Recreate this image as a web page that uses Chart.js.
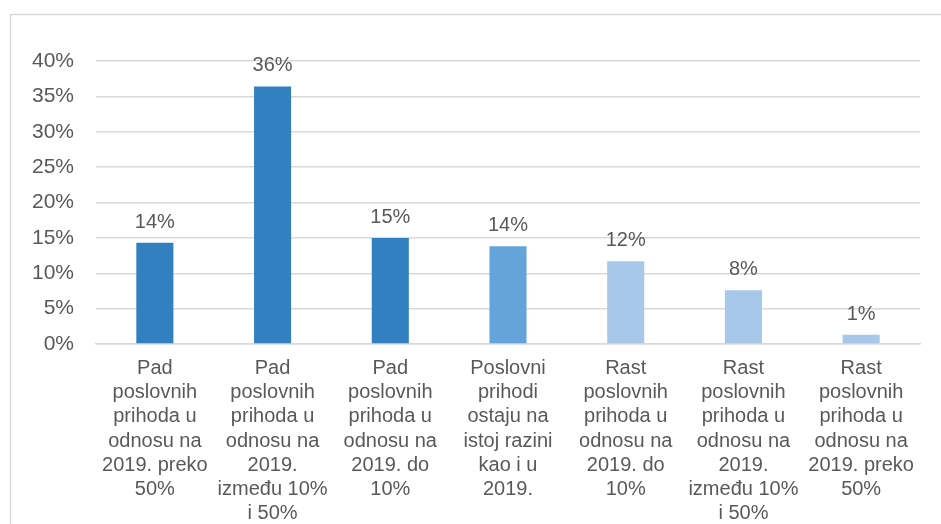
<!DOCTYPE html>
<html>
<head>
<meta charset="utf-8">
<script src="https://cdn.jsdelivr.net/npm/chart.js@4/dist/chart.umd.min.js"></script>
<style>
html,body{margin:0;padding:0;background:#fff;}
#wrap{width:941px;height:524px;position:relative;}
</style>
</head>
<body>
<div id="wrap"><canvas id="c" width="941" height="524"></canvas></div>
<script>
const categories = [
  ["Pad", "poslovnih", "prihoda u", "odnosu na", "2019. preko", "50%"],
  ["Pad", "poslovnih", "prihoda u", "odnosu na", "2019.", "između 10%", "i 50%"],
  ["Pad", "poslovnih", "prihoda u", "odnosu na", "2019. do", "10%"],
  ["Poslovni", "prihodi", "ostaju na", "istoj razini", "kao i u", "2019."],
  ["Rast", "poslovnih", "prihoda u", "odnosu na", "2019. do", "10%"],
  ["Rast", "poslovnih", "prihoda u", "odnosu na", "2019.", "između 10%", "i 50%"],
  ["Rast", "poslovnih", "prihoda u", "odnosu na", "2019. preko", "50%"]
];
const values = [14.3, 36.4, 15.0, 13.8, 11.7, 7.6, 1.3];
const barColors = ["#3380C0", "#3380C0", "#3380C0", "#64A4DA", "#A7C8E8", "#A7C8E8", "#A7C8E8"];
const yTicks = [0, 5, 10, 15, 20, 25, 30, 35, 40];

const FONT = "'Liberation Sans', Arial, sans-serif";
const TEXT = "#595959";

const framePlugin = {
  id: 'frame',
  beforeDraw(chart) {
    const ctx = chart.ctx;
    ctx.save();
    ctx.strokeStyle = '#D9D9D9';
    ctx.lineWidth = 1.5;
    ctx.strokeRect(10.5, 14.5, 1200, 1200);
    ctx.restore();
  }
};

const labelPlugin = {
  id: 'valueLabels',
  afterDatasetsDraw(chart) {
    const ctx = chart.ctx;
    const meta = chart.getDatasetMeta(0);
    ctx.save();
    ctx.font = "20px " + FONT;
    ctx.fillStyle = TEXT;
    ctx.textAlign = 'center';
    ctx.textBaseline = 'alphabetic';
    meta.data.forEach((bar, i) => {
      ctx.fillText(Math.round(values[i]) + '%', bar.x, bar.y - 15);
    });
    ctx.restore();
  }
};

new Chart(document.getElementById('c'), {
  type: 'bar',
  data: {
    labels: categories,
    datasets: [{
      data: values,
      backgroundColor: barColors,
      borderWidth: 0,
      categoryPercentage: 1,
      barPercentage: 0.315
    }]
  },
  options: {
    responsive: false,
    animation: false,
    devicePixelRatio: 1,
    layout: { padding: { left: 0, right: 21, top: 61, bottom: 0 } },
    plugins: { legend: { display: false }, tooltip: { enabled: false } },
    scales: {
      x: {
        afterFit(scale) { scale.height = 180; },
        grid: { display: false, drawTicks: false },
        border: { display: true, color: '#D9D9D9', width: 1.5 },
        ticks: {
          color: TEXT,
          font: { family: FONT, size: 20, lineHeight: 1.215 },
          padding: 12,
          maxRotation: 0,
          autoSkip: false
        }
      },
      y: {
        min: 0,
        max: 40,
        afterFit(scale) { scale.width = 96; },
        afterBuildTicks(scale) { scale.ticks = yTicks.map(v => ({ value: v })); },
        grid: { color: '#D9D9D9', lineWidth: 1.5, drawTicks: false },
        border: { display: false },
        ticks: {
          color: TEXT,
          font: { family: FONT, size: 21 },
          padding: 22,
          callback: v => v + '%'
        }
      }
    }
  },
  plugins: [framePlugin, labelPlugin]
});
</script>
</body>
</html>
